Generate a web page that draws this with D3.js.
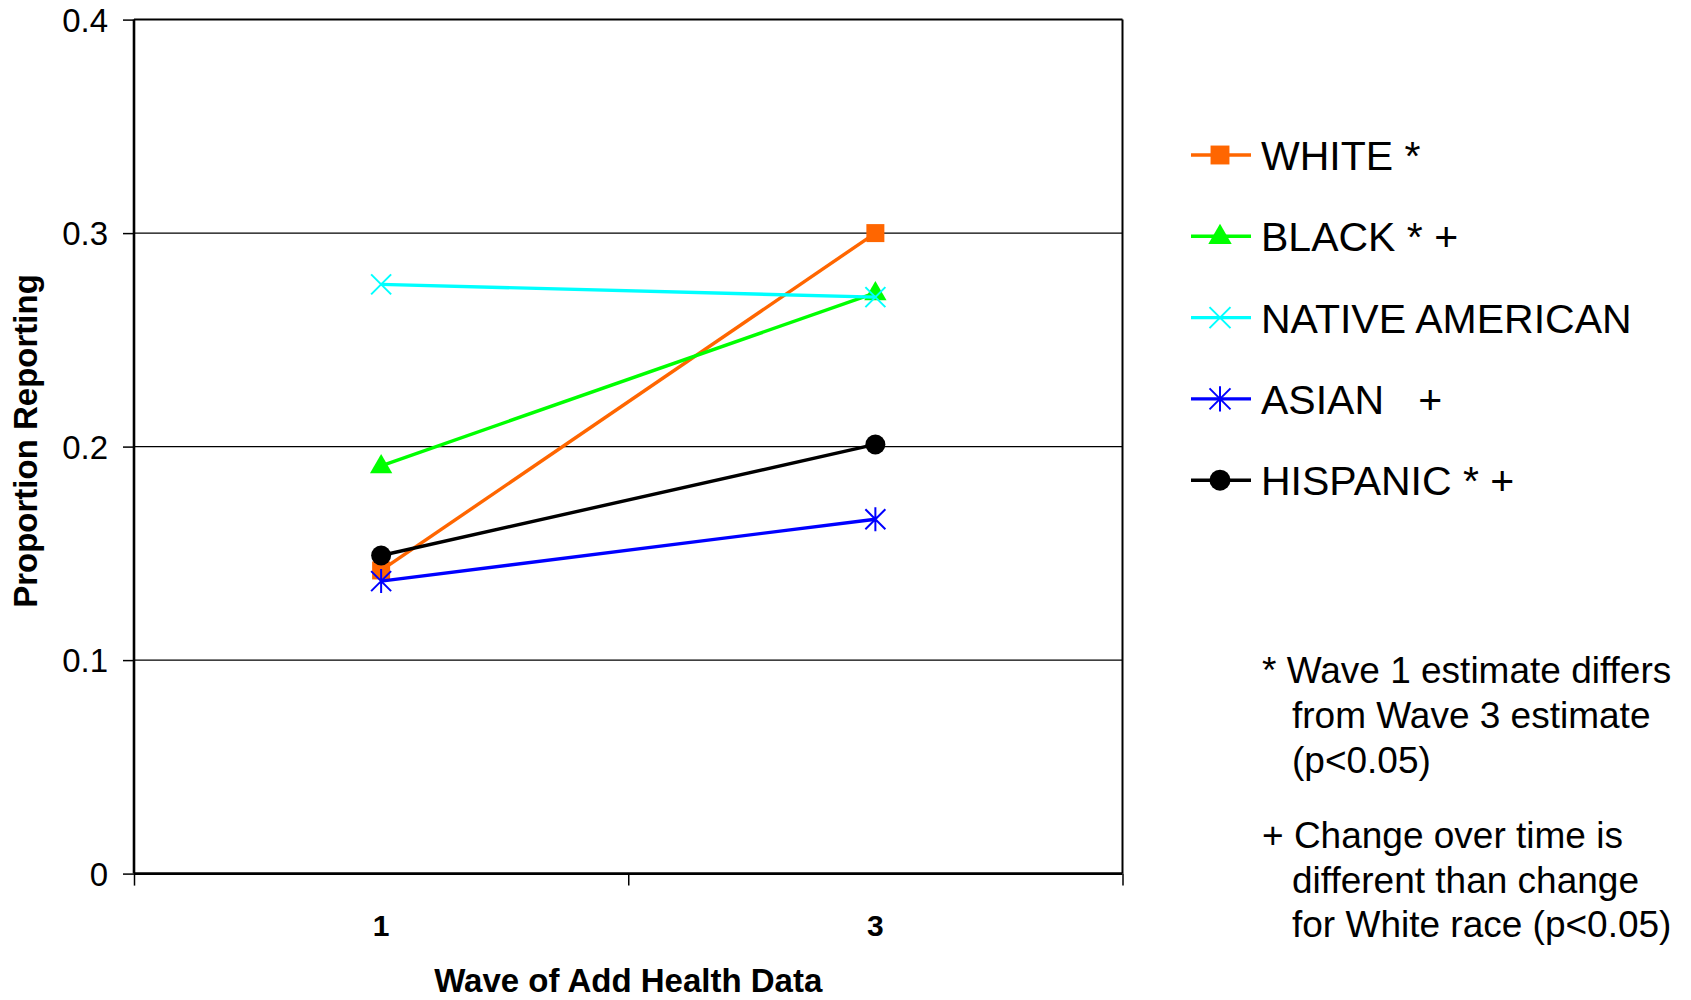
<!DOCTYPE html>
<html>
<head>
<meta charset="utf-8">
<script src="https://cdn.jsdelivr.net/npm/d3@7"></script>
<style>
  html, body { margin: 0; padding: 0; background: #fff; }
  svg { display: block; }
  text { font-family: "Liberation Sans", Arial, Helvetica, sans-serif; fill: #000; }
</style>
</head>
<body>
<svg id="chart" width="1691" height="1000"></svg>
<script>
// ---- data ----
const categories = ["1", "3"];
const seriesNames = ["WHITE *", "BLACK * +", "NATIVE AMERICAN", "ASIAN   +", "HISPANIC * +"];
const whiteValues = [0.142, 0.300];
const blackValues = [0.191, 0.272];
const nativeValues = [0.276, 0.270];
const asianValues = [0.137, 0.166];
const hispanicValues = [0.149, 0.201];
const yTickValues = [0, 0.1, 0.2, 0.3, 0.4];
const yTickLabels = ["0", "0.1", "0.2", "0.3", "0.4"];
const xTitle = "Wave of Add Health Data";
const yTitle = "Proportion Reporting";
const noteStar = ["* Wave 1 estimate differs", "from Wave 3 estimate", "(p<0.05)"];
const notePlus = ["+ Change over time is", "different than change", "for White race (p<0.05)"];

// ---- styling ----
const seriesColors = ["#FF6600", "#00FF00", "#00FFFF", "#0000FF", "#000000"];
const seriesMarkers = ["square", "triangle", "x", "star", "circle"];
const seriesValues = [whiteValues, blackValues, nativeValues, asianValues, hispanicValues];

const svg = d3.select("#chart");
const m = { left: 134, right: 1122.5, top: 19.6, bottom: 873.6 };

const x = d3.scaleBand().domain(categories).range([m.left, m.right]).paddingInner(0).paddingOuter(0);
const xEdge = d3.scaleLinear().domain([0, categories.length]).range([m.left, m.right]);
const y = d3.scaleLinear().domain([0, 0.4]).range([m.bottom, m.top]);

// gridlines
svg.append("g")
  .selectAll("line")
  .data(yTickValues.filter(v => v > 0 && v < 0.4))
  .join("line")
  .attr("x1", m.left).attr("x2", m.right)
  .attr("y1", d => y(d)).attr("y2", d => y(d))
  .attr("stroke", "#000").attr("stroke-width", 1.2);

// plot border top/right
svg.append("line").attr("x1", m.left).attr("x2", m.right).attr("y1", y(0.4)).attr("y2", y(0.4))
  .attr("stroke", "#000").attr("stroke-width", 2);
svg.append("line").attr("x1", m.right).attr("x2", m.right).attr("y1", y(0.4)).attr("y2", y(0))
  .attr("stroke", "#000").attr("stroke-width", 2);

// y axis
const yAxis = svg.append("g").attr("transform", `translate(${m.left},0)`)
  .call(d3.axisLeft(y).tickValues(yTickValues).tickFormat((d, i) => yTickLabels[i]).tickSize(11).tickPadding(15));
yAxis.select(".domain").attr("stroke-width", 2.6).attr("d", `M0,${m.top}V${m.bottom}`);
yAxis.selectAll(".tick line").attr("stroke-width", 1.5);
yAxis.selectAll(".tick text")
  .attr("font-size", 33)
  .style("font-family", "'Liberation Sans', Arial, sans-serif")
  .attr("dy", "0.36em");

// x axis - boundary ticks
const xAxisEdges = svg.append("g").attr("transform", `translate(0,${m.bottom})`)
  .call(d3.axisBottom(xEdge).tickValues(d3.range(categories.length + 1)).tickFormat("").tickSize(12));
xAxisEdges.select(".domain").attr("stroke-width", 2.6).attr("d", `M${m.left},0H${m.right}`);
xAxisEdges.selectAll(".tick line").attr("stroke-width", 1.5);

// x axis - category labels
const xAxisLabels = svg.append("g").attr("transform", `translate(0,${m.bottom})`)
  .call(d3.axisBottom(x).tickSize(0).tickPadding(0));
xAxisLabels.select(".domain").remove();
xAxisLabels.selectAll(".tick text")
  .attr("font-size", 30).attr("font-weight", "bold")
  .style("font-family", "'Liberation Sans', Arial, sans-serif")
  .attr("y", 62).attr("dy", 0);

// axis titles
svg.append("text")
  .attr("x", (m.left + m.right) / 2).attr("y", 992)
  .attr("text-anchor", "middle").attr("font-size", 33).attr("font-weight", "bold")
  .text(xTitle);
svg.append("text")
  .attr("transform", `translate(37,${441}) rotate(-90)`)
  .attr("text-anchor", "middle").attr("font-size", 33).attr("font-weight", "bold")
  .text(yTitle);

// marker drawing
function drawMarker(g, type, color, scale) {
  const s = scale || 1;
  if (type === "square") {
    g.append("path").attr("d", d3.symbol(d3.symbolSquare, 324 * s * s)()).attr("fill", color);
  } else if (type === "triangle") {
    g.append("path").attr("d", d3.symbol(d3.symbolTriangle, 215 * s * s)()).attr("fill", color)
      .attr("transform", "translate(0,1)");
  } else if (type === "circle") {
    g.append("path").attr("d", d3.symbol(d3.symbolCircle, 314 * s * s)()).attr("fill", color);
  } else if (type === "x") {
    const r = 10 * s;
    g.append("path").attr("d", `M${-r},${-r}L${r},${r}M${-r},${r}L${r},${-r}`)
      .attr("stroke", color).attr("stroke-width", 2).attr("fill", "none");
  } else if (type === "star") {
    const r = 10 * s;
    g.append("path").attr("d", `M${-r},${-r}L${r},${r}M${-r},${r}L${r},${-r}M0,${-r * 1.2}L0,${r * 1.2}`)
      .attr("stroke", color).attr("stroke-width", 2).attr("fill", "none");
  }
}

// series
const line = d3.line().x((d, i) => x(categories[i]) + x.bandwidth() / 2).y(d => y(d));
seriesValues.forEach((vals, si) => {
  const g = svg.append("g");
  g.append("path").datum(vals).attr("d", line)
    .attr("fill", "none").attr("stroke", seriesColors[si]).attr("stroke-width", 3.4);
  vals.forEach((v, i) => {
    const mg = g.append("g").attr("transform", `translate(${x(categories[i]) + x.bandwidth() / 2},${y(v)})`);
    drawMarker(mg, seriesMarkers[si], seriesColors[si], 1);
  });
});

// legend
const legend = svg.append("g");
seriesNames.forEach((name, si) => {
  const ly = 155 + si * 81.3;
  const g = legend.append("g").attr("transform", `translate(0,${ly})`);
  g.append("line").attr("x1", 1191).attr("x2", 1251).attr("y1", 0).attr("y2", 0)
    .attr("stroke", seriesColors[si]).attr("stroke-width", 3.4);
  const mg = g.append("g").attr("transform", "translate(1220,0)");
  drawMarker(mg, seriesMarkers[si], seriesColors[si], 1.05);
  g.append("text").attr("x", 1261).attr("y", 15).attr("font-size", 41)
    .style("white-space", "pre").text(name);
});

// notes
const notes = svg.append("g").attr("font-size", 37);
noteStar.forEach((t, i) => {
  notes.append("text").attr("x", i === 0 ? 1262 : 1292).attr("y", 683 + i * 45).text(t);
});
notePlus.forEach((t, i) => {
  notes.append("text").attr("x", i === 0 ? 1262 : 1292).attr("y", 848 + i * 44.5).text(t);
});
</script>
</body>
</html>
